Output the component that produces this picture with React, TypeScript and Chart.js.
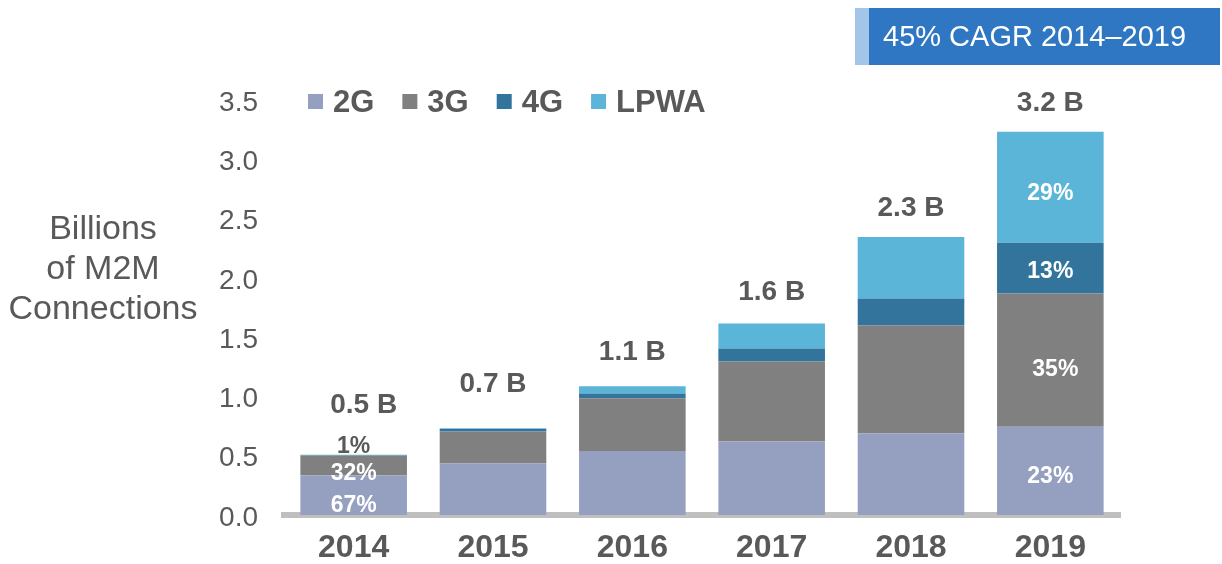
import React, { useEffect, useRef } from "react";
import { Chart, registerables } from "chart.js";

Chart.register(...registerables);

// ---------- data ----------
const YEARS = ["2014", "2015", "2016", "2017", "2018", "2019"];
const SERIES_NAMES = ["2G", "3G", "4G", "LPWA"];
const VALUES_2G = [0.335, 0.435, 0.54, 0.62, 0.69, 0.745];
const VALUES_3G = [0.165, 0.27, 0.445, 0.675, 0.91, 1.124];
const VALUES_4G = [0.004, 0.02, 0.04, 0.11, 0.225, 0.427];
const VALUES_LPWA = [0.004, 0.007, 0.06, 0.21, 0.52, 0.936];
const TOTAL_LABELS = ["0.5 B", "0.7 B", "1.1 B", "1.6 B", "2.3 B", "3.2 B"];
const PCT_2G = ["67%", "", "", "", "", "23%"];
const PCT_3G = ["32%", "", "", "", "", "35%"];
const PCT_4G = ["", "", "", "", "", "13%"];
const PCT_LPWA = ["1%", "", "", "", "", "29%"];
const Y_MIN = 0;
const Y_MAX = 3.5;
const Y_STEP = 0.5;
const Y_TITLE = ["Billions", "of M2M", "Connections"];
const CAGR_TEXT = "45% CAGR 2014\u20132019";

// ---------- style ----------
const FONT = "'Liberation Sans', Arial, Helvetica, sans-serif";
const TEXT_GRAY = "#595959";
const COLORS = ["#95A0C1", "#808080", "#32749C", "#5BB5D8"];
const TOTAL_GAP = [49, 44, 34, 31, 29, 28];
const TOTAL_DX = [10, 0, 0, 0, 0, 0];
// [dx, dy, color] nudges for percentage labels keyed by "dataset-index"
const PCT_NUDGE: Record<string, [number, number, string]> = {
  "0-0": [0, 11, "#FFFFFF"],
  "1-0": [0, 8, "#FFFFFF"],
  "3-0": [0, -8, TEXT_GRAY],
  "0-5": [0, 6, "#FFFFFF"],
  "1-5": [5, 10, "#FFFFFF"],
  "2-5": [0, 4, "#FFFFFF"],
  "3-5": [0, 6, "#FFFFFF"],
};

const SERIES_VALUES = [VALUES_2G, VALUES_3G, VALUES_4G, VALUES_LPWA];
const SERIES_PCTS = [PCT_2G, PCT_3G, PCT_4G, PCT_LPWA];

const overlayPlugin = {
  id: "overlay",
  afterDraw(chart: any) {
    const ctx = chart.ctx as CanvasRenderingContext2D;
    const yScale = chart.scales.y;
    ctx.save();

    // CAGR box
    ctx.fillStyle = "#A3C5E8";
    ctx.fillRect(855, 8, 14, 57);
    ctx.fillStyle = "#2F77C2";
    ctx.fillRect(869, 8, 351, 57);
    ctx.fillStyle = "#FFFFFF";
    ctx.font = `29px ${FONT}`;
    ctx.textAlign = "left";
    ctx.textBaseline = "middle";
    ctx.fillText(CAGR_TEXT, 883, 38);

    // Y axis title (horizontal)
    ctx.fillStyle = TEXT_GRAY;
    ctx.font = `34px ${FONT}`;
    ctx.textAlign = "center";
    Y_TITLE.forEach((line, k) => ctx.fillText(line, 103, 230 + k * 40));

    // Legend
    let lx = 308;
    ctx.font = `bold 31px ${FONT}`;
    ctx.textAlign = "left";
    SERIES_NAMES.forEach((name, k) => {
      ctx.fillStyle = COLORS[k];
      ctx.fillRect(lx, 94, 15, 15);
      ctx.fillStyle = TEXT_GRAY;
      ctx.fillText(name, lx + 25, 103);
      lx = lx + 25 + ctx.measureText(name).width + 28;
    });

    // Total labels
    ctx.font = `bold 28px ${FONT}`;
    ctx.textAlign = "center";
    ctx.fillStyle = TEXT_GRAY;
    const topMeta = chart.getDatasetMeta(SERIES_VALUES.length - 1);
    YEARS.forEach((_, i) => {
      const total = SERIES_VALUES.reduce((s, arr) => s + arr[i], 0);
      const x = topMeta.data[i].x;
      const y = yScale.getPixelForValue(total);
      ctx.fillText(TOTAL_LABELS[i], x + TOTAL_DX[i], y - TOTAL_GAP[i]);
    });

    // Percentage labels
    ctx.font = `bold 23px ${FONT}`;
    SERIES_PCTS.forEach((pcts, di) => {
      const meta = chart.getDatasetMeta(di);
      pcts.forEach((txt, i) => {
        if (!txt) return;
        const el = meta.data[i];
        const nudge = PCT_NUDGE[`${di}-${i}`] || [0, 0, "#FFFFFF"];
        ctx.fillStyle = nudge[2];
        ctx.fillText(txt, el.x + nudge[0], (el.y + el.base) / 2 + nudge[1]);
      });
    });

    ctx.restore();
  },
};

export default function App() {
  const canvasRef = useRef<HTMLCanvasElement | null>(null);

  useEffect(() => {
    document.body.style.margin = "0";
    const canvas = canvasRef.current;
    if (!canvas) return;
    const chart = new Chart(canvas, {
      type: "bar",
      data: {
        labels: YEARS,
        datasets: SERIES_NAMES.map((name, k) => ({
          label: name,
          data: SERIES_VALUES[k],
          backgroundColor: COLORS[k],
          borderWidth: 0,
          barPercentage: 0.765,
          categoryPercentage: 1,
        })),
      },
      options: {
        responsive: false,
        animation: false,
        devicePixelRatio: 1,
        layout: { padding: { left: 0, top: 100, right: 102, bottom: 0 } },
        plugins: {
          legend: { display: false },
          tooltip: { enabled: false },
          title: { display: false },
        },
        scales: {
          x: {
            stacked: true,
            z: 1,
            grid: { display: false, drawTicks: false },
            border: { display: true, color: "#BFBFBF", width: 6 },
            ticks: {
              color: TEXT_GRAY,
              font: { family: FONT, size: 32, weight: "bold" },
              padding: 14,
              maxRotation: 0,
            },
            afterFit: (scale: any) => {
              scale.height = 49;
            },
          },
          y: {
            stacked: true,
            min: Y_MIN,
            max: Y_MAX,
            grid: { display: false, drawTicks: false },
            border: { display: false },
            ticks: {
              stepSize: Y_STEP,
              color: TEXT_GRAY,
              font: { family: FONT, size: 28 },
              padding: 26,
              labelOffset: 3,
              callback: (v: any) => Number(v).toFixed(1),
            },
            afterFit: (scale: any) => {
              scale.width = 284;
            },
          },
        },
      },
      plugins: [overlayPlugin],
    });
    return () => chart.destroy();
  }, []);

  return (
    <div style={{ width: 1222, height: 564, position: "relative" }}>
      <canvas ref={canvasRef} width={1222} height={564} />
    </div>
  );
}
